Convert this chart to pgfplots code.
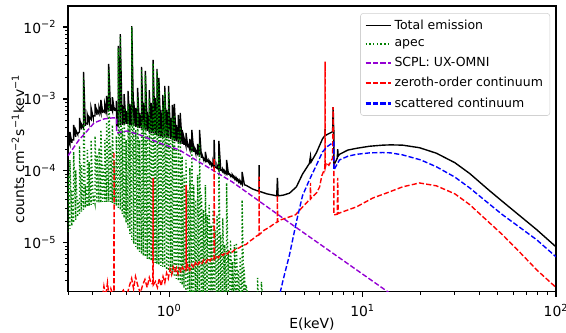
\documentclass[border=0pt]{standalone}
\usepackage{pgfplots}
\pgfplotsset{compat=1.18}
\usepackage{fontspec}
\setmainfont{DejaVu Sans}
\definecolor{mplgreen}{RGB}{0,128,0}
\definecolor{mplviolet}{RGB}{148,0,211}
\definecolor{mplred}{RGB}{255,0,0}
\definecolor{mplblue}{RGB}{0,0,255}
\begin{document}
\begin{tikzpicture}
\useasboundingbox (-48.96pt,-29.5pt) rectangle (358.6pt,210.2pt);
\begin{axis}[
  at={(0,0)}, anchor=south west,
  scale only axis, width=351.4pt, height=205.9pt,
  xmode=log, ymode=log,
  xmin=0.3, xmax=100, ymin=2.08e-6, ymax=1.96e-2,
  axis line style={line width=0.8pt},
  tick align=outside, xtick pos=bottom, ytick pos=left,
  major tick length=3.5pt, minor tick length=2pt,
  every tick/.style={black, line width=0.8pt},
  every minor tick/.style={black, line width=0.6pt},
  xtick={1,10,100},
  xticklabels={10\textsuperscript{0},10\textsuperscript{1},10\textsuperscript{2}},
  minor xtick={0.3,0.4,0.5,0.6,0.7,0.8,0.9,2,3,4,5,6,7,8,9,20,30,40,50,60,70,80,90},
  ytick={1e-5,1e-4,1e-3,1e-2},
  yticklabels={10\textsuperscript{−5},10\textsuperscript{−4},10\textsuperscript{−3},10\textsuperscript{−2}},
  minor ytick={3e-6,4e-6,5e-6,6e-6,7e-6,8e-6,9e-6,2e-5,3e-5,4e-5,5e-5,6e-5,7e-5,8e-5,9e-5,2e-4,3e-4,4e-4,5e-4,6e-4,7e-4,8e-4,9e-4,2e-3,3e-3,4e-3,5e-3,6e-3,7e-3,8e-3,9e-3},
  ticklabel style={font=\fontsize{10}{12}\selectfont},
  xticklabel style={yshift=-2pt},
  yticklabel style={xshift=-1.5pt},
  xlabel={E(keV)},
  ylabel={counts cm\textsuperscript{−2}s\textsuperscript{−1}kev\textsuperscript{−1}},
  label style={font=\fontsize{12}{14}\selectfont},
  every axis x label/.style={at={(axis description cs:0.5,0)}, anchor=center, yshift=-23.5pt},
  every axis y label/.style={at={(axis description cs:-0.1025,0.5)}, rotate=90, anchor=center},
  legend style={at={(axis description cs:0.988,0.975)}, anchor=north east,
    draw=black!18, rounded corners=2pt, fill=white,
    font=\fontsize{9}{10.5}\selectfont, inner xsep=3pt, inner ysep=2.5pt,
    row sep=2.2pt, cells={anchor=west}},
  legend image code/.code={\draw[#1] (0pt,0pt) -- (18pt,0pt);},
  every axis plot/.append style={line width=1pt},
]
\addlegendimage{draw=black, solid, line width=1pt}
\addlegendentry{Total emission}
\addlegendimage{draw=mplgreen, line width=1.5pt, dash pattern=on 1pt off 1.65pt}
\addlegendentry{apec}
\addlegendimage{draw=mplviolet, line width=1.5pt, dash pattern=on 3.7pt off 1.6pt}
\addlegendentry{SCPL: UX-OMNI}
\addlegendimage{draw=mplred, line width=1.5pt, dash pattern=on 3.7pt off 1.6pt}
\addlegendentry{zeroth-order continuum}
\addlegendimage{draw=mplblue, line width=1.5pt, dash pattern=on 3.7pt off 1.6pt}
\addlegendentry{scattered continuum}
% Total emission
\addplot[draw=black, solid, forget plot] coordinates {
(0.300,2.02e-4)(0.300,2.70e-4)(0.307,2.30e-4)(0.307,3.48e-4)(0.314,2.45e-4)(0.314,2.70e-4)
(0.321,2.70e-4)(0.321,4.35e-4)(0.329,2.97e-4)(0.329,3.71e-4)(0.337,3.21e-4)(0.337,3.30e-4)
(0.344,3.48e-4)(0.344,5.45e-4)(0.352,3.77e-4)(0.352,4.49e-4)(0.361,3.95e-4)(0.361,2.37e-3)
(0.369,4.22e-4)(0.369,4.64e-4)(0.378,4.49e-4)(0.378,5.99e-4)(0.386,4.79e-4)(0.386,5.62e-4)
(0.395,5.19e-4)(0.395,7.50e-4)(0.405,5.45e-4)(0.405,5.81e-4)(0.414,5.81e-4)(0.414,8.52e-4)
(0.424,5.99e-4)(0.424,7.03e-4)(0.434,6.19e-4)(0.434,7.74e-4)(0.444,6.30e-4)(0.444,9.69e-4)
(0.454,6.39e-4)(0.454,7.03e-4)(0.465,6.50e-4)(0.465,8.52e-4)(0.475,6.60e-4)(0.475,1.10e-3)
(0.487,6.70e-4)(0.487,3.06e-3)(0.498,6.81e-4)(0.498,8.25e-4)(0.509,6.81e-4)(0.509,1.06e-3)
(0.521,6.81e-4)(0.521,7.50e-4)(0.533,6.81e-4)(0.533,9.38e-4)(0.535,6.81e-4)(0.535,4.22e-4)
(0.546,4.22e-4)(0.546,5.45e-3)(0.559,4.30e-4)(0.559,7.99e-3)(0.572,4.35e-4)(0.572,8.25e-4)
(0.585,4.42e-4)(0.585,1.17e-3)(0.599,4.49e-4)(0.599,6.81e-4)(0.613,4.45e-4)(0.613,1.29e-3)
(0.627,4.35e-4)(0.627,8.52e-4)(0.641,4.30e-4)(0.641,1.03e-2)(0.656,4.22e-4)(0.656,9.38e-4)
(0.672,4.08e-4)(0.672,7.50e-4)(0.687,4.00e-4)(0.687,1.42e-3)(0.703,3.95e-4)(0.703,6.39e-4)
(0.720,3.88e-4)(0.720,2.78e-3)(0.736,3.77e-4)(0.736,8.80e-4)(0.754,3.71e-4)(0.754,2.45e-3)
(0.771,3.59e-4)(0.771,6.60e-4)(0.789,3.48e-4)(0.789,1.33e-3)(0.807,3.37e-4)(0.807,8.80e-4)
(0.826,3.32e-4)(0.826,3.48e-3)(0.846,3.26e-4)(0.846,1.03e-3)(0.865,3.16e-4)(0.865,2.61e-3)
(0.885,3.06e-4)(0.885,1.96e-3)(0.906,3.01e-4)(0.906,7.03e-4)(0.927,2.97e-4)(0.927,1.14e-3)
(0.949,2.92e-4)(0.949,1.52e-3)(0.971,2.88e-4)(0.971,7.03e-4)(0.993,2.83e-4)(0.993,1.52e-3)
(1.017,2.78e-4)(1.017,5.45e-4)(1.040,2.70e-4)(1.040,8.25e-4)(1.064,2.62e-4)(1.064,8.52e-4)
(1.089,2.58e-4)(1.089,4.35e-4)(1.115,2.50e-4)(1.115,5.99e-4)(1.141,2.41e-4)(1.141,6.39e-4)
(1.167,2.37e-4)(1.167,3.71e-4)(1.194,2.30e-4)(1.194,2.88e-4)(1.222,2.22e-4)(1.222,3.37e-4)
(1.251,2.12e-4)(1.251,2.37e-4)(1.280,1.96e-4)(1.280,2.78e-4)(1.310,1.90e-4)(1.310,3.71e-4)
(1.340,1.84e-4)(1.340,2.22e-4)(1.371,1.76e-4)(1.371,1.96e-4)(1.403,1.72e-4)(1.403,2.37e-4)
(1.436,1.67e-4)(1.436,3.71e-4)(1.469,1.52e-4)(1.469,1.78e-4)(1.504,1.46e-4)(1.504,1.52e-4)
(1.539,1.38e-4)(1.539,1.84e-4)(1.574,1.33e-4)(1.574,1.42e-4)(1.611,1.28e-4)(1.611,1.38e-4)
(1.649,1.21e-4)(1.649,1.29e-4)(1.687,1.17e-4)(1.687,1.33e-4)(1.710,1.15e-4)(1.710,2.70e-4)
(1.726,1.14e-4)(1.767,1.09e-4)(1.767,1.21e-4)(1.808,1.03e-4)(1.808,2.61e-4)
(1.850,1.00e-4)(1.850,1.06e-4)(1.893,9.69e-5)(1.893,1.06e-4)(1.937,9.38e-5)(1.937,1.00e-4)
(1.982,9.09e-5)(1.982,1.42e-4)(2.028,8.80e-5)(2.028,9.38e-5)(2.075,8.52e-5)(2.075,8.80e-5)
(2.124,8.25e-5)(2.124,8.80e-5)(2.173,7.87e-5)(2.173,8.25e-5)(2.224,7.50e-5)(2.224,7.99e-5)
(2.276,7.15e-5)(2.276,7.50e-5)(2.329,6.81e-5)(2.329,7.26e-5)(2.383,6.50e-5)(2.383,9.69e-5)
(2.45,6.4e-5)(2.5,6.3e-5)(2.7,5.6e-5)(2.915,5.2e-5)(2.92,1.2e-4)(2.925,5.2e-5)(3.2,4.8e-5)
(3.6,4.5e-5)(3.63,8e-5)(3.66,4.5e-5)(3.89,4.6e-5)(4.19,4.9e-5)(4.55,6.0e-5)(4.89,9.0e-5)
(5.31,1.27e-4)(5.38,1.6e-4)(5.42,1.33e-4)(5.78,1.8e-4)(6.21,2.8e-4)(6.39,3.1e-4)(6.4,3.8e-4)
(6.41,3.1e-4)(6.7,3.3e-4)(7.0,3.5e-4)(7.05,7.7e-4)(7.09,3.6e-4)(7.11,3.6e-4)(7.11,1.2e-4)
(7.4,1.5e-4)(7.44,2.0e-4)(7.48,1.6e-4)(7.6,1.7e-4)(8.4,1.95e-4)(9.3,2.06e-4)(10.85,2.2e-4)
(12.7,2.28e-4)(14,2.3e-4)(16.1,2.28e-4)(19.7,2.1e-4)(24.1,1.76e-4)(30,1.3e-4)(35.8,9.2e-5)
(45,5.4e-5)(53,3.74e-5)(65,2.38e-5)(79.6,1.52e-5)(100,8.8e-6)
};
% apec
\addplot[draw=mplgreen, dash pattern=on 1pt off 1.65pt, forget plot] coordinates {
(0.300,1.42e-5)(0.300,8.8e-5)(0.307,1.56e-5)(0.307,1.42e-4)(0.314,1.72e-5)(0.314,5.45e-5)
(0.321,1.90e-5)(0.321,1.84e-4)(0.329,2.09e-5)(0.329,1.03e-4)(0.337,2.30e-5)(0.337,3.95e-5)
(0.344,2.53e-5)(0.344,2.22e-4)(0.352,2.70e-5)(0.352,1.21e-4)(0.361,2.88e-5)(0.361,1.96e-3)
(0.369,3.06e-5)(0.369,6.39e-5)(0.378,3.16e-5)(0.378,1.96e-4)(0.386,3.26e-5)(0.386,1.33e-4)
(0.395,3.37e-5)(0.395,2.70e-4)(0.405,3.48e-5)(0.405,4.64e-5)(0.414,3.48e-5)(0.414,3.06e-4)
(0.424,3.59e-5)(0.424,1.67e-4)(0.434,3.59e-5)(0.434,2.09e-4)(0.444,3.59e-5)(0.444,3.71e-4)
(0.454,3.71e-5)(0.454,1.21e-4)(0.465,3.71e-5)(0.465,2.70e-4)(0.475,3.71e-5)(0.475,4.79e-4)
(0.487,3.71e-5)(0.487,2.53e-3)(0.498,3.71e-5)(0.498,2.30e-4)(0.509,3.59e-5)(0.509,4.35e-4)
(0.521,3.48e-5)(0.521,1.42e-4)(0.533,3.26e-5)(0.533,3.06e-4)(0.546,3.06e-5)(0.546,5.11e-3)
(0.559,2.88e-5)(0.559,7.50e-3)(0.572,2.53e-5)(0.572,3.95e-4)(0.585,2.22e-5)(0.585,7.50e-4)
(0.599,1.90e-5)(0.599,2.70e-4)(0.613,1.62e-5)(0.613,8.52e-4)(0.627,1.33e-5)(0.627,4.35e-4)
(0.641,1.10e-5)(0.641,1.00e-2)(0.656,9.69e-6)(0.656,5.45e-4)(0.672,8.80e-6)(0.672,3.71e-4)
(0.687,7.99e-6)(0.687,1.06e-3)(0.703,7.50e-6)(0.703,2.70e-4)(0.720,7.03e-6)(0.720,2.61e-3)
(0.736,6.60e-6)(0.736,5.11e-4)(0.754,6.39e-6)(0.754,2.15e-3)(0.771,5.99e-6)(0.771,3.16e-4)
(0.789,5.81e-6)(0.789,1.03e-3)(0.807,5.62e-6)(0.807,5.45e-4)(0.826,5.45e-6)(0.826,3.16e-3)
(0.846,5.27e-6)(0.846,7.03e-4)(0.865,5.11e-6)(0.865,2.45e-3)(0.885,4.95e-6)(0.885,1.72e-3)
(0.906,4.79e-6)(0.906,3.95e-4)(0.927,4.64e-6)(0.927,8.25e-4)(0.949,4.49e-6)(0.949,1.25e-3)
(0.971,4.22e-6)(0.971,4.35e-4)(0.993,4.08e-6)(0.993,1.29e-3)(1.017,3.83e-6)(1.017,2.70e-4)
(1.040,3.59e-6)(1.040,5.45e-4)(1.064,3.37e-6)(1.064,5.99e-4)(1.089,3.16e-6)(1.089,1.96e-4)
(1.115,2.97e-6)(1.115,3.48e-4)(1.141,2.78e-6)(1.141,4.08e-4)(1.167,2.61e-6)(1.167,1.62e-4)
(1.194,2.37e-6)(1.194,8.80e-5)(1.222,2.15e-6)(1.222,1.42e-4)(1.251,1.96e-6)(1.251,5.45e-5)
(1.280,1.78e-6)(1.280,1.10e-4)(1.310,1.6e-6)(1.310,2.22e-4)(1.340,1.5e-6)(1.340,6.39e-5)
(1.371,1.5e-6)(1.371,3.95e-5)(1.403,1.5e-6)(1.403,8.80e-5)(1.436,1.5e-6)(1.436,2.45e-4)
(1.469,1.5e-6)(1.469,4.64e-5)(1.504,1.5e-6)(1.504,2.88e-5)(1.539,1.5e-6)(1.539,6.39e-5)
(1.574,1.5e-6)(1.574,2.45e-5)(1.611,1.5e-6)(1.611,3.37e-5)(1.649,1.5e-6)(1.649,1.78e-5)
(1.687,1.5e-6)(1.687,2.88e-5)(1.726,1.5e-6)(1.726,1.52e-5)(1.767,1.5e-6)(1.767,2.45e-5)
(1.808,1.5e-6)(1.808,1.62e-4)(1.850,1.5e-6)(1.850,1.29e-5)(1.893,1.5e-6)(1.893,2.22e-5)
(1.937,1.5e-6)(1.937,9.38e-6)(1.982,1.5e-6)(1.982,6.81e-5)(2.028,1.5e-6)(2.028,7.99e-6)
(2.075,1.5e-6)(2.075,1.10e-5)(2.124,1.5e-6)(2.124,5.45e-6)(2.173,1.5e-6)(2.173,9.38e-6)
(2.224,1.5e-6)(2.224,1.00e-5)(2.276,1.5e-6)(2.276,4.22e-6)(2.329,1.5e-6)(2.329,6.39e-6)
(2.383,1.5e-6)(2.383,3.95e-5)(2.438,1.5e-6)(2.438,4.64e-6)(2.495,1.5e-6)(2.495,2.61e-6)
(2.6,1.5e-6)(2.865,1.5e-6)(2.865,3.26e-6)(2.9,1.5e-6)(3.0,1.5e-6)(3.0,2.88e-6)(3.05,1.5e-6)
};
% SCPL
\addplot[draw=mplviolet, dash pattern=on 3.7pt off 1.6pt, forget plot] coordinates {
(0.30,1.62e-4)(0.342,2.70e-4)(0.369,3.37e-4)(0.409,4.64e-4)(0.46,5.27e-4)(0.507,5.45e-4)
(0.535,5.45e-4)(0.535,3.37e-4)(0.606,3.59e-4)(0.708,3.16e-4)(0.888,2.45e-4)(1.127,1.96e-4)
(1.43,1.33e-4)(2.12,7.03e-5)(4.19,1.90e-5)(13.3,2.15e-6)(20,1e-6)
};
% zeroth-order continuum
\addplot[draw=mplred, dash pattern=on 3.7pt off 1.6pt, forget plot] coordinates {
(0.30,1e-6)(0.44,1e-6)(0.45,1.6e-6)(0.46,2.5e-6)(0.47,1.8e-6)(0.48,2.8e-6)(0.49,1.7e-6)
(0.50,2.3e-6)(0.515,1.8e-6)(0.518,1.8e-6)(0.519,1.84e-4)(0.520,1.8e-6)(0.53,1.5e-6)
(0.55,1.8e-6)(0.58,2.2e-6)(0.60,1.7e-6)(0.62,2.4e-6)(0.64,3.2e-6)(0.655,2.3e-6)(0.67,3.4e-6)
(0.69,2.5e-6)(0.71,2.0e-6)(0.73,2.6e-6)(0.75,3.1e-6)(0.77,2.4e-6)(0.79,3.3e-6)(0.81,2.7e-6)
(0.824,2.7e-6)(0.826,8.0e-5)(0.828,2.6e-6)(0.85,2.9e-6)(0.87,2.4e-6)(0.89,3.2e-6)(0.91,2.5e-6)
(0.93,3.4e-6)(0.95,2.8e-6)(0.97,3.8e-6)(0.99,3.2e-6)(1.01,4.3e-6)(1.03,3.6e-6)(1.05,4.6e-6)
(1.07,3.9e-6)(1.09,4.5e-6)(1.11,3.7e-6)(1.13,4.4e-6)(1.15,4.0e-6)(1.17,4.6e-6)(1.20,4.1e-6)
(1.223,4.3e-6)(1.225,6.4e-5)(1.227,4.3e-6)(1.25,4.9e-6)(1.28,4.2e-6)(1.31,5.0e-6)(1.34,4.5e-6)
(1.37,5.3e-6)(1.40,4.8e-6)(1.43,5.4e-6)(1.47,5.0e-6)(1.51,5.8e-6)(1.55,5.3e-6)(1.59,6.1e-6)
(1.63,5.6e-6)(1.67,6.3e-6)(1.705,6.0e-6)(1.710,1.5e-4)(1.715,6.0e-6)(1.75,6.6e-6)(1.80,6.2e-6)
(1.85,7.0e-6)(1.90,6.7e-6)(1.95,7.4e-6)(2.0,7.0e-6)(2.05,7.6e-6)(2.1,7.3e-6)(2.2,8.2e-6)
(2.3,8.5e-6)(2.4,9.2e-6)(2.5,9.5e-6)(2.6,1.05e-5)(2.7,1.12e-5)(2.8,1.22e-5)(2.915,1.3e-5)
(2.92,8.3e-5)(2.925,1.3e-5)(3.1,1.5e-5)(3.3,1.65e-5)(3.5,1.85e-5)(3.62,1.95e-5)(3.63,4.6e-5)
(3.64,1.96e-5)(3.8,2.1e-5)(4.0,2.2e-5)(4.2,2.3e-5)(4.5,2.45e-5)(4.9,3.16e-5)(5.3,3.95e-5)
(5.37,4.0e-5)(5.38,6.8e-5)(5.39,4.1e-5)(5.8,5.0e-5)(6.0,6.0e-5)(6.15,8.5e-5)(6.3,1.0e-4)
(6.39,1.1e-4)(6.4,3.3e-3)(6.41,1.1e-4)(6.5,1.3e-4)(6.7,1.2e-4)(6.9,1.4e-4)(7.0,1.5e-4)
(7.05,7.7e-4)(7.08,1.5e-4)(7.11,1.5e-4)(7.11,2.45e-5)(7.40,2.5e-5)(7.44,8.0e-5)(7.48,2.55e-5)
(7.6,2.6e-5)(8.5,2.9e-5)(9.3,3.16e-5)(11.3,4.2e-5)(13.5,5.0e-5)(16.1,6.0e-5)(19.7,6.8e-5)
(24.1,6.2e-5)(30,4.8e-5)(35.8,3.4e-5)(45,1.93e-5)(53,1.29e-5)(65,7.4e-6)(79.6,4.2e-6)(100,2.4e-6)
};
% scattered continuum
\addplot[draw=mplblue, dash pattern=on 3.7pt off 1.6pt, forget plot] coordinates {
(3.6,8e-7)(3.76,2.1e-6)(3.89,3.1e-6)(4.19,6.8e-6)(4.55,1.96e-5)(4.89,4.5e-5)(5.31,7.5e-5)
(5.78,1.21e-4)(6.21,1.84e-4)(6.6,2.2e-4)(7.0,2.45e-4)(7.11,2.5e-4)(7.11,1.03e-4)(7.6,1.42e-4)
(8.4,1.6e-4)(9.3,1.7e-4)(10.85,1.78e-4)(12.7,1.8e-4)(14,1.78e-4)(16.1,1.67e-4)(20,1.42e-4)
(24.1,1.14e-4)(30,8.2e-5)(35.8,5.8e-5)(45,3.5e-5)(53,2.45e-5)(65,1.64e-5)(79.6,1.1e-5)(100,6.4e-6)
};
\end{axis}
\end{tikzpicture}
\end{document}
